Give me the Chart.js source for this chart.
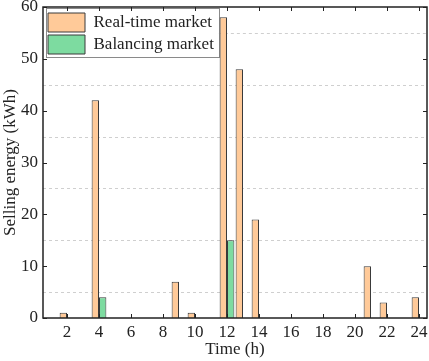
<!DOCTYPE html>
<html>
<head>
<meta charset="utf-8">
<script src="https://cdn.jsdelivr.net/npm/chart.js@4/dist/chart.umd.min.js"></script>
<style>
  html, body { margin: 0; padding: 0; background: #fff; }
  #wrap { width: 429px; height: 361px; }
</style>
</head>
<body>
<div id="wrap"><canvas id="c"></canvas></div>
<script>
const hours = ['1', '2', '3', '4', '5', '6', '7', '8', '9', '10', '11', '12',
    '13', '14', '15', '16', '17', '18', '19', '20', '21', '22', '23', '24'];
const realTime = [null, 1, null, 42, null, null, null, null, 7, 1, null, 58,
    48, 19, null, null, null, null, null, null, 10, 3, null, 4];
const balancing = [null, null, null, 4, null, null, null, null, null, null, null, 15,
    null, null, null, null, null, null, null, null, null, null, null, null];
const yTicks = [0, 10, 20, 30, 40, 50, 60];

const FONT = '"Liberation Serif", "Times New Roman", Times, serif';
const INK = '#222';

// frame, inward ticks, dashed minor grid and legend border
const framePlugin = {
    id: 'frame',
    afterLayout(chart) {
        // vertical legend in chartArea starts at top 0, move it into the plot
        const lg = chart.legend;
        if (!lg) return;
        const dy = chart.chartArea.top + 3 - lg.top;
        const dx = 2;
        lg.top += dy;
        lg.bottom += dy;
        lg.left += dx;
        lg.right += dx;
        lg.legendHitBoxes.forEach(h => { h.top += dy; h.left += dx; });
    },
    beforeDatasetsDraw(chart) {
        const { ctx, chartArea: a, scales: { y } } = chart;
        const lg = chart.legend;
        let box = null;
        if (lg && lg.legendHitBoxes && lg.legendHitBoxes.length) {
            const hb = lg.legendHitBoxes;
            const l = Math.min(...hb.map(h => h.left)) - 4;
            const t = Math.min(...hb.map(h => h.top)) - 5;
            const r = Math.max(...hb.map(h => h.left + h.width)) + 3;
            const b = Math.max(...hb.map(h => h.top + h.height)) + 3;
            box = { l, t, r, b };
        }
        ctx.save();
        ctx.strokeStyle = '#cfcfcf';
        ctx.lineWidth = 1;
        ctx.setLineDash([3, 3]);
        y.ticks.filter(t => t.value % 10 === 5).forEach(t => {
            const py = Math.round(y.getPixelForValue(t.value)) + 0.5;
            let x0 = a.left;
            if (box && py > box.t && py < box.b) x0 = box.r;
            ctx.beginPath();
            ctx.moveTo(x0, py);
            ctx.lineTo(a.right, py);
            ctx.stroke();
        });
        ctx.restore();
        if (box) {
            ctx.save();
            ctx.strokeStyle = '#8a8a8a';
            ctx.lineWidth = 1;
            ctx.strokeRect(Math.round(box.l) + 0.5, Math.round(box.t) + 0.5,
                Math.round(box.r - box.l), Math.round(box.b - box.t));
            ctx.restore();
        }
    },
    afterDraw(chart) {
        const { ctx, chartArea: a, scales: { x, y } } = chart;
        ctx.save();
        ctx.strokeStyle = INK;
        ctx.lineWidth = 1;
        const len = 4;
        hours.forEach((h, i) => {
            if (Number(h) % 2 !== 0) return;
            const px = Math.round(x.getPixelForValue(i)) + 0.5;
            ctx.beginPath();
            ctx.moveTo(px, a.bottom); ctx.lineTo(px, a.bottom - len);
            ctx.moveTo(px, a.top); ctx.lineTo(px, a.top + len);
            ctx.stroke();
        });
        yTicks.forEach(v => {
            const py = Math.round(y.getPixelForValue(v)) + 0.5;
            ctx.beginPath();
            ctx.moveTo(a.left, py); ctx.lineTo(a.left + len, py);
            ctx.moveTo(a.right, py); ctx.lineTo(a.right - len, py);
            ctx.stroke();
        });
        ctx.lineWidth = 1.5;
        ctx.strokeRect(a.left, a.top, a.right - a.left, a.bottom - a.top);
        ctx.restore();
    }
};

new Chart(document.getElementById('c'), {
    type: 'bar',
    data: {
        labels: hours,
        datasets: [{
            label: 'Real-time market',
            data: realTime,
            backgroundColor: '#ffca99',
            borderColor: '#3a3a3a',
            borderWidth: 1,
            categoryPercentage: 0.92,
            barPercentage: 1
        }, {
            label: 'Balancing market',
            data: balancing,
            backgroundColor: '#7ddba0',
            borderColor: '#3a3a3a',
            borderWidth: 1,
            categoryPercentage: 0.92,
            barPercentage: 1
        }]
    },
    plugins: [framePlugin],
    options: {
        responsive: true,
        maintainAspectRatio: false,
        animation: false,
        layout: { padding: { top: 7, right: 2, left: 0, bottom: 0 } },
        plugins: {
            tooltip: { enabled: false },
            legend: {
                position: 'chartArea',
                align: 'start',
                labels: {
                    boxWidth: 37,
                    boxHeight: 19,
                    padding: 3,
                    color: INK,
                    font: { family: FONT, size: 17 }
                }
            }
        },
        scales: {
            x: {
                type: 'category',
                grid: { display: false, drawTicks: false },
                border: { display: false },
                ticks: {
                    autoSkip: false,
                    maxRotation: 0,
                    padding: 4,
                    color: INK,
                    font: { family: FONT, size: 17 },
                    callback: function (value) {
                        const h = Number(hours[value]);
                        return h % 2 === 0 ? String(h) : '';
                    }
                },
                title: {
                    display: true,
                    text: 'Time (h)',
                    color: INK,
                    font: { family: FONT, size: 17 },
                    padding: { top: 0, bottom: 1 }
                },
                afterFit: (scale) => {
                    scale.height = 43;
                    scale.paddingLeft = 0;
                    scale.paddingRight = 0;
                }
            },
            y: {
                min: 0,
                max: 60,
                grid: { display: false, drawTicks: false },
                border: { display: false },
                ticks: {
                    stepSize: 5,
                    padding: 5,
                    color: INK,
                    font: { family: FONT, size: 17 },
                    callback: (v) => v % 10 === 0 ? v : ''
                },
                title: {
                    display: true,
                    text: 'Selling energy (kWh)',
                    color: INK,
                    font: { family: FONT, size: 17 },
                    padding: { top: 0, bottom: 0 }
                },
                afterFit: (scale) => {
                    scale.width = 43;
                    scale.paddingTop = 0;
                    scale.paddingBottom = 0;
                }
            }
        }
    }
});
</script>
</body>
</html>
